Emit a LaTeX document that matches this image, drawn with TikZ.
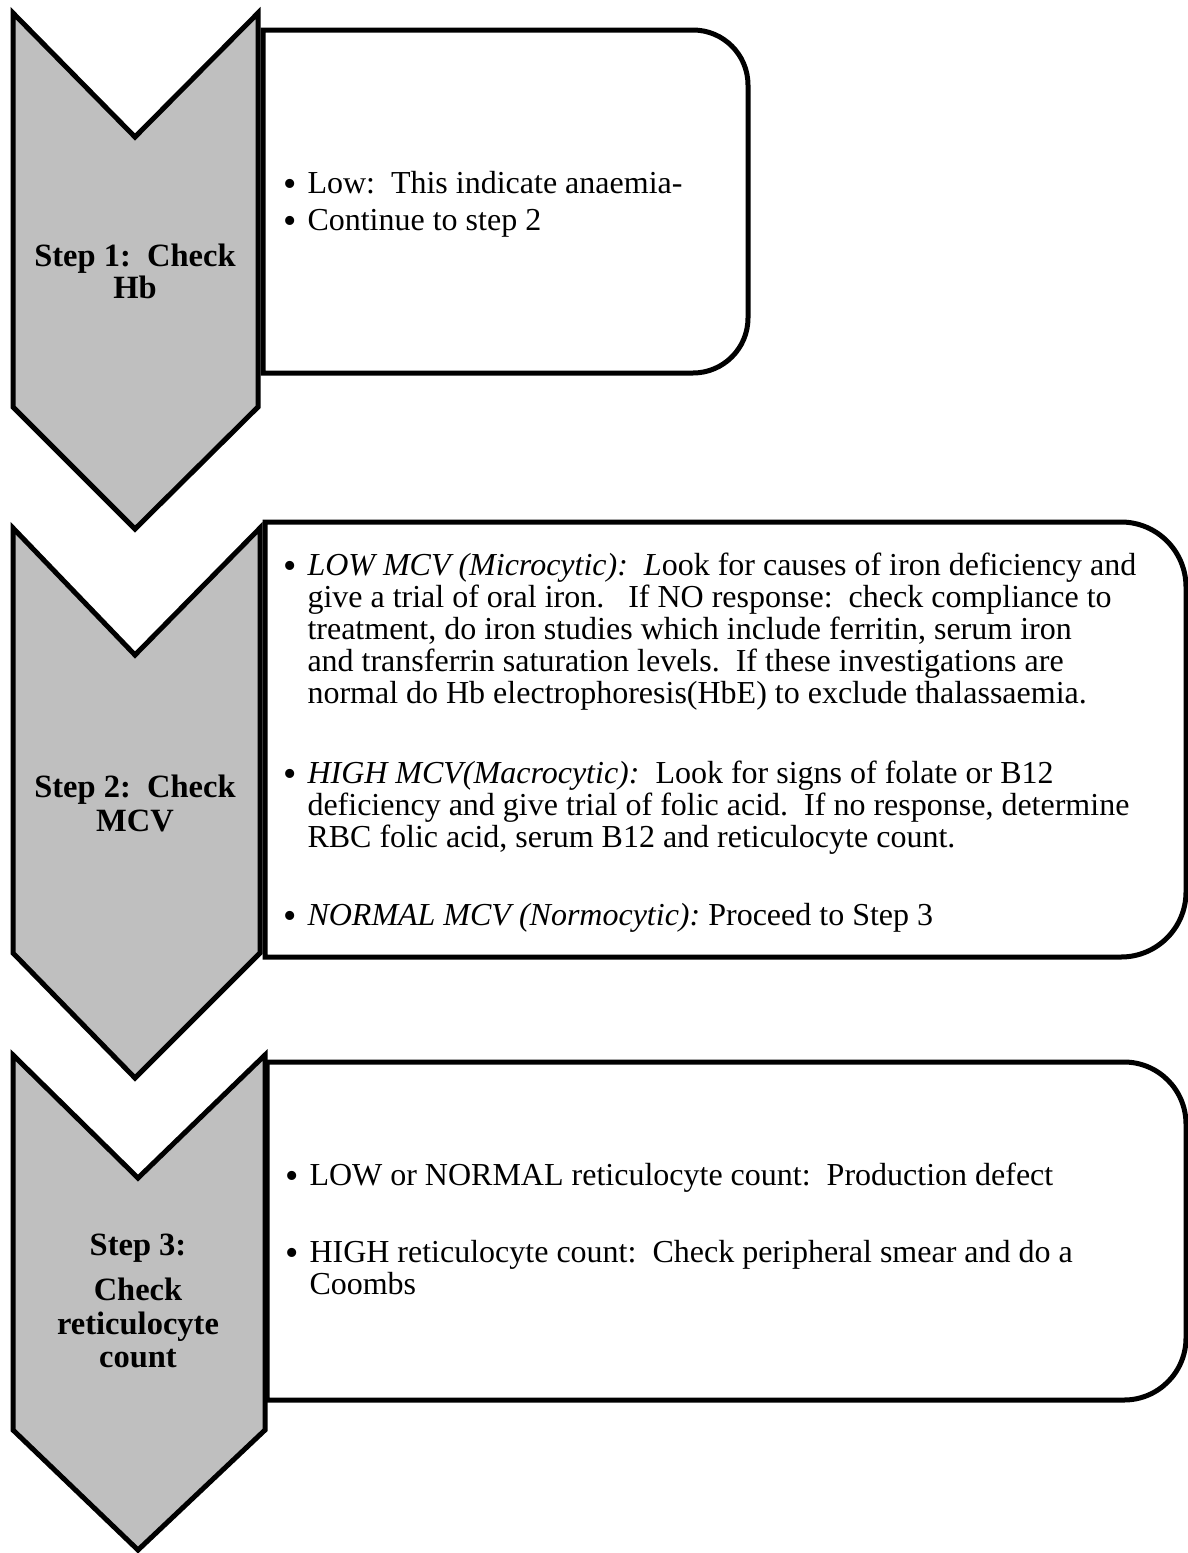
\documentclass[tikz,border=0pt]{standalone}
\usepackage{fontspec}
\setmainfont{Liberation Serif}
\usetikzlibrary{positioning}
\definecolor{chevgray}{RGB}{191,191,191}
\tikzset{
	chevron/.style={draw=black, fill=chevgray, line width=5pt, line join=miter},
	panel/.style={draw=black, fill=white, line width=5pt},
	steplabel/.style={anchor=base, inner sep=0pt, font=\fontsize{32.5}{34}\selectfont\bfseries},
	itemtext/.style={anchor=base west, inner sep=0pt, font=\fontsize{32}{32}\selectfont}
}
\newcommand{\itembullet}{\raisebox{-3pt}{\fontsize{38}{38}\selectfont\textbullet}}
\frenchspacing

\begin{document}
\begin{tikzpicture}[x=1pt, y=-1pt]

\useasboundingbox (0,0) rectangle (1188,1553);

% chevrons
\draw[chevron] (13,13) -- (135,137) -- (258,13) -- (258,407) -- (135,529) -- (13,407) -- cycle;
\draw[chevron] (13,528) -- (135,655) -- (260,528) -- (260,953) -- (135,1078) -- (13,953) -- cycle;
\draw[chevron] (13,1055) -- (138,1178) -- (265,1055) -- (265,1430) -- (138,1550) -- (13,1430) -- cycle;

% panels, right corners rounded
\draw[panel] (263,30) -- (693,30) arc[start angle=-90, end angle=0, radius=55]
	-- (748,318) arc[start angle=0, end angle=90, radius=55] -- (263,373) -- cycle;
\draw[panel] (265,522) -- (1121,522) arc[start angle=-90, end angle=0, radius=65]
	-- (1186,892) arc[start angle=0, end angle=90, radius=65] -- (265,957) -- cycle;
\draw[panel] (267,1062) -- (1124,1062) arc[start angle=-90, end angle=0, radius=62]
	-- (1186,1338) arc[start angle=0, end angle=90, radius=62] -- (267,1400) -- cycle;

% step labels
\node[steplabel] (step1) at (135,266) {\begin{tabular}[t]{@{}c@{}}Step 1:\ \ Check\\[-2pt]Hb\end{tabular}};
\node[steplabel] (step2) at (135,797) {\begin{tabular}[t]{@{}c@{}}Step 2:\ \ Check\\MCV\end{tabular}};
\node[steplabel] (step3) at (138,1255) {\begin{tabular}[t]{@{}c@{}}Step 3:\\[11pt]Check\\reticulocyte\\[-1pt]count\end{tabular}};

% panel texts
\node[itemtext] (hbtext) at (283,193) {\begin{tabular}[t]{@{}c@{\hspace{11pt}}l@{}}
	\itembullet & Low:\ \ This indicate anaemia-\\[5pt]
	\itembullet & Continue to step 2
\end{tabular}};

\node[itemtext] (mcvtext) at (283,575) {\begin{tabular}[t]{@{}c@{\hspace{11pt}}l@{}}
	\itembullet & \textit{LOW MCV (Microcytic):\ \ L}ook for causes of iron deficiency and\\
	& give a trial of oral iron.\ \ \ If NO response:\ \ check compliance to\\
	& treatment, do iron studies which include ferritin, serum iron\\
	& and transferrin saturation levels.\ \ If these investigations are\\
	& normal do Hb electrophoresis(HbE) to exclude thalassaemia.\\[48pt]
	\itembullet & \textit{HIGH MCV(Macrocytic):}\ \ Look for signs of folate or B12\\
	& deficiency and give trial of folic acid.\ \ If no response, determine\\
	& RBC folic acid, serum B12 and reticulocyte count.\\[46pt]
	\itembullet & \textit{NORMAL MCV (Normocytic):} Proceed to Step 3
\end{tabular}};

\node[itemtext] (retictext) at (285,1185) {\begin{tabular}[t]{@{}c@{\hspace{11pt}}l@{}}
	\itembullet & LOW or NORMAL reticulocyte count:\ \ Production defect\\[45pt]
	\itembullet & HIGH reticulocyte count:\ \ Check peripheral smear and do a\\
	& Coombs
\end{tabular}};

\end{tikzpicture}
\end{document}
